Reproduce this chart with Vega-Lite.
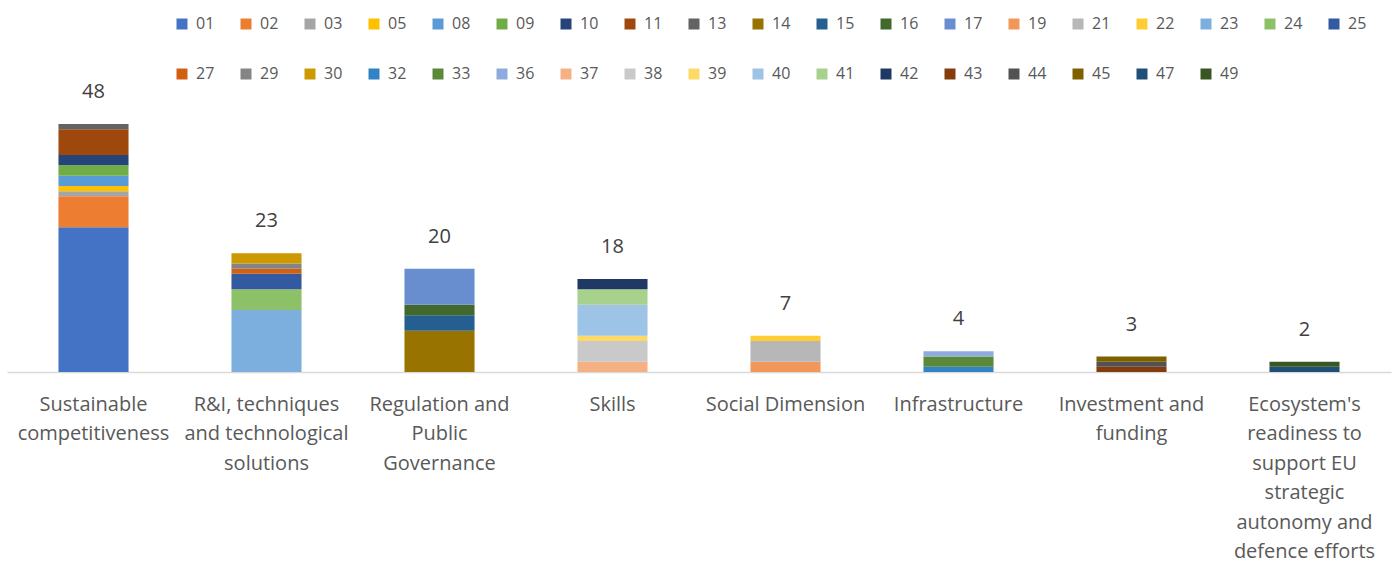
{
  "$schema": "https://vega.github.io/schema/vega-lite/v6.json",
  "autosize": "none",
  "width": 1384,
  "height": 279,
  "padding": {"left": 7, "top": 93, "right": 8, "bottom": 191},
  "background": "white",
  "config": {
    "view": {"stroke": null},
    "font": "Open Sans",
    "text": {"font": "Open Sans"}
  },
  "data": {
    "values": [
      {"category": "Sustainable competitiveness", "code": "01", "value": 28},
      {"category": "Sustainable competitiveness", "code": "02", "value": 6},
      {"category": "Sustainable competitiveness", "code": "03", "value": 1},
      {"category": "Sustainable competitiveness", "code": "05", "value": 1},
      {"category": "Sustainable competitiveness", "code": "08", "value": 2},
      {"category": "Sustainable competitiveness", "code": "09", "value": 2},
      {"category": "Sustainable competitiveness", "code": "10", "value": 2},
      {"category": "Sustainable competitiveness", "code": "11", "value": 5},
      {"category": "Sustainable competitiveness", "code": "13", "value": 1},
      {"category": "R&I, techniques and technological solutions", "code": "23", "value": 12},
      {"category": "R&I, techniques and technological solutions", "code": "24", "value": 4},
      {"category": "R&I, techniques and technological solutions", "code": "25", "value": 3},
      {"category": "R&I, techniques and technological solutions", "code": "27", "value": 1},
      {"category": "R&I, techniques and technological solutions", "code": "29", "value": 1},
      {"category": "R&I, techniques and technological solutions", "code": "30", "value": 2},
      {"category": "Regulation and Public Governance", "code": "14", "value": 8},
      {"category": "Regulation and Public Governance", "code": "15", "value": 3},
      {"category": "Regulation and Public Governance", "code": "16", "value": 2},
      {"category": "Regulation and Public Governance", "code": "17", "value": 7},
      {"category": "Skills", "code": "37", "value": 2},
      {"category": "Skills", "code": "38", "value": 4},
      {"category": "Skills", "code": "39", "value": 1},
      {"category": "Skills", "code": "40", "value": 6},
      {"category": "Skills", "code": "41", "value": 3},
      {"category": "Skills", "code": "42", "value": 2},
      {"category": "Social Dimension", "code": "19", "value": 2},
      {"category": "Social Dimension", "code": "21", "value": 4},
      {"category": "Social Dimension", "code": "22", "value": 1},
      {"category": "Infrastructure", "code": "32", "value": 1},
      {"category": "Infrastructure", "code": "33", "value": 2},
      {"category": "Infrastructure", "code": "36", "value": 1},
      {"category": "Investment and funding", "code": "43", "value": 1},
      {"category": "Investment and funding", "code": "44", "value": 1},
      {"category": "Investment and funding", "code": "45", "value": 1},
      {"category": "Ecosystem's readiness to support EU strategic autonomy and defence efforts", "code": "47", "value": 1},
      {"category": "Ecosystem's readiness to support EU strategic autonomy and defence efforts", "code": "49", "value": 1}
    ]
  },
  "encoding": {
    "x": {
      "field": "category",
      "type": "nominal",
      "sort": null,
      "scale": {"paddingInner": 0.595},
      "axis": {
        "title": null,
        "labelAngle": 0,
        "ticks": false,
        "domainColor": "#d9d9d9",
        "domainWidth": 1.5,
        "labelColor": "#595959",
        "labelFont": "Open Sans",
        "labelFontSize": 20,
        "labelLineHeight": 29.5,
        "labelPadding": 22,
        "labelBaseline": "top",
        "labelLimit": 0,
        "labelExpr": "datum.value == 'Sustainable competitiveness' ? ['Sustainable', 'competitiveness'] : datum.value == 'R&I, techniques and technological solutions' ? ['R&I, techniques', 'and technological', 'solutions'] : datum.value == 'Regulation and Public Governance' ? ['Regulation and', 'Public', 'Governance'] : datum.value == 'Investment and funding' ? ['Investment and', 'funding'] : datum.value == \"Ecosystem's readiness to support EU strategic autonomy and defence efforts\" ? [\"Ecosystem's\", 'readiness to', 'support EU', 'strategic', 'autonomy and', 'defence efforts'] : datum.value"
      }
    }
  },
  "layer": [
    {
      "mark": {"type": "bar"},
      "encoding": {
        "y": {
          "aggregate": "sum",
          "field": "value",
          "type": "quantitative",
          "stack": "zero",
          "scale": {"domain": [0, 54], "nice": false},
          "axis": null
        },
        "color": {
          "field": "code",
          "type": "nominal",
          "scale": {
            "domain": ["01","02","03","05","08","09","10","11","13","14","15","16","17","19","21","22","23","24","25","27","29","30","32","33","36","37","38","39","40","41","42","43","44","45","47","49"],
            "range": ["#4472C4","#ED7D31","#A5A5A5","#FFC000","#5B9BD5","#70AD47","#264478","#9E480E","#636363","#997300","#255E91","#43682B","#698ED0","#F1975A","#B7B7B7","#FFCD33","#7CAFDD","#8CC168","#335AA1","#D26012","#848484","#CC9A00","#3282C6","#5A8A39","#8FAADC","#F4B183","#C9C9C9","#FFD966","#9DC3E6","#A9D18E","#203864","#843C0C","#525252","#7F6000","#1F4E79","#385723"]
          },
          "legend": {
            "title": null,
            "orient": "none",
            "legendX": 167,
            "legendY": -77,
            "direction": "horizontal",
            "columns": 19,
            "symbolLimit": 0,
            "symbolType": "square",
            "symbolSize": 121,
            "symbolStrokeWidth": 0,
            "labelFont": "Open Sans",
            "labelFontSize": 16,
            "labelColor": "#595959",
            "labelOffset": 6,
            "columnPadding": 23,
            "rowPadding": 34,
            "padding": 0
          }
        },
        "order": {"field": "code", "type": "nominal", "sort": "ascending"}
      }
    },
    {
      "mark": {"type": "text", "dy": -32, "fontSize": 20, "color": "#404040", "font": "Open Sans"},
      "encoding": {
        "y": {"aggregate": "sum", "field": "value", "type": "quantitative"},
        "text": {"aggregate": "sum", "field": "value", "type": "quantitative"}
      }
    }
  ]
}
